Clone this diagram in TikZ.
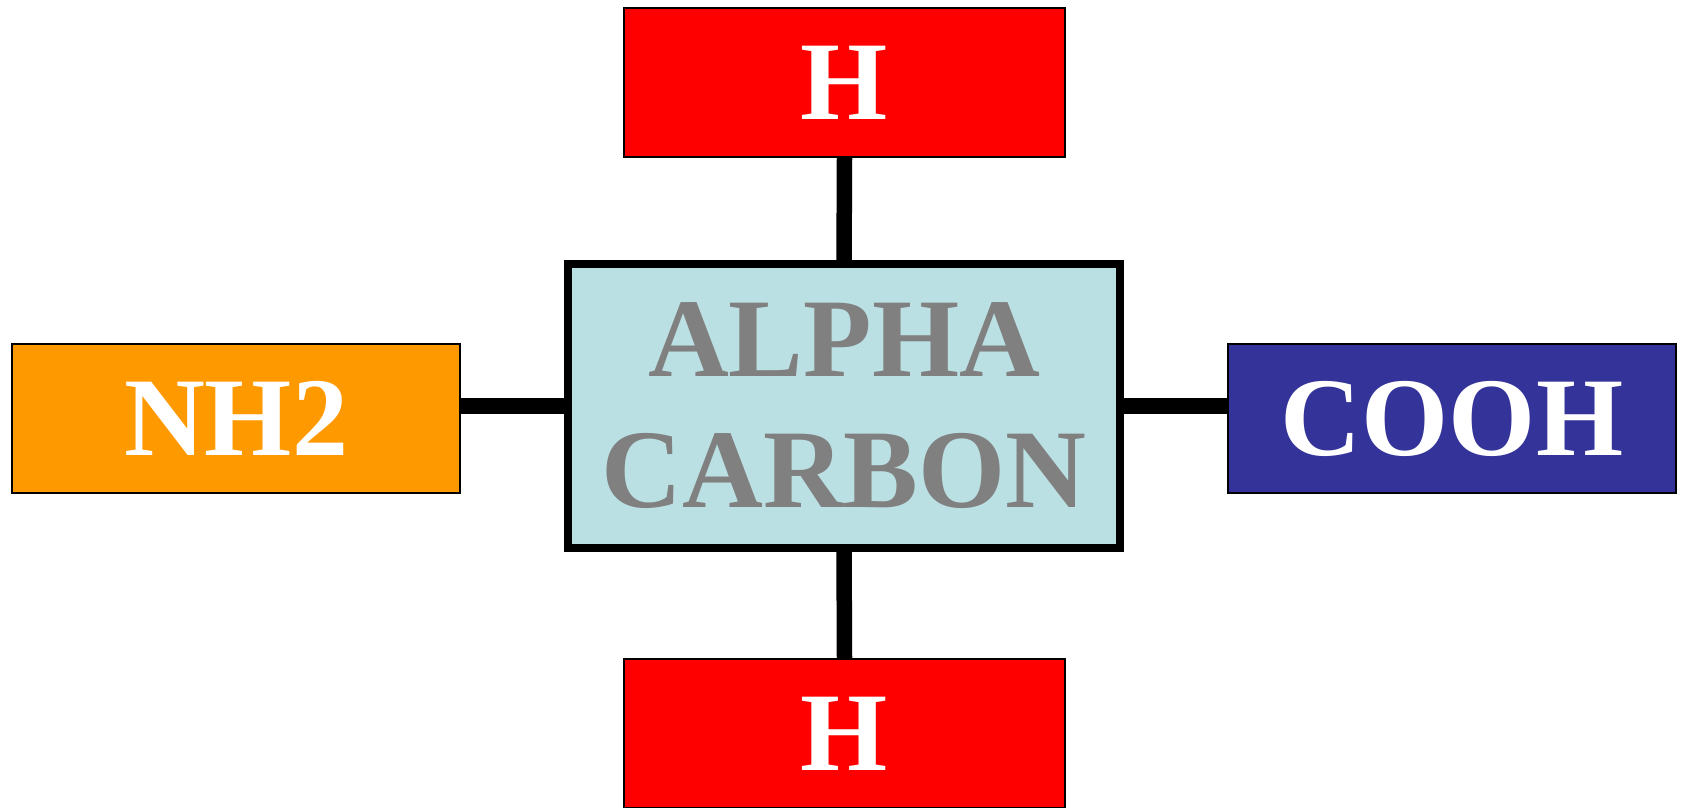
\documentclass[tikz,border=0pt]{standalone}
\usepackage{fontspec}
\setmainfont{Liberation Serif}
\usepackage{xcolor}
\usepackage{tikz}

\definecolor{hrot}{RGB}{255,0,0}
\definecolor{nhorange}{RGB}{255,153,0}
\definecolor{coohblau}{RGB}{51,51,153}
\definecolor{cahell}{RGB}{187,224,227}
\definecolor{cagrau}{RGB}{128,128,128}

\begin{document}
\begin{tikzpicture}[x=1pt,y=-1pt,
		gruppe/.style={draw=black, line width=1.2pt, outer sep=0pt, inner sep=0pt,
			minimum width=441pt, minimum height=149pt, text=white,
			font=\fontsize{112}{131}\selectfont\bfseries},
		zentrum/.style={draw=black, line width=8pt, outer sep=0pt, inner sep=0pt,
			fill=cahell, minimum width=552pt, minimum height=283.5pt, text=cagrau,
			align=center, font=\fontsize{112}{131}\selectfont\bfseries},
		bindung/.style={black, line width=15.5pt}]
		% Rahmen
		\useasboundingbox (0,0) rectangle (1683,808);

		% Knoten
		\node[zentrum] (ca) at (844,405.75) {ALPHA\\CARBON};
		\node[gruppe, fill=hrot] (hoben) at (844.5,82.5) {H};
		\node[gruppe, fill=hrot] (hunten) at (844.5,733.5) {H};
		\node[gruppe, fill=nhorange, minimum width=448pt] (nh) at (236,418.5) {NH2};
		\node[gruppe, fill=coohblau, minimum width=448pt] (cooh) at (1452,418.5) {COOH};

		% Bindungen
		\draw[bindung] (ca.north) -- (hoben.south);
		\draw[bindung] (ca.south) -- (hunten.north);
		\draw[bindung] (ca.west) -- (ca.west -| nh.east);
		\draw[bindung] (ca.east) -- (ca.east -| cooh.west);
	\end{tikzpicture}
\end{document}
